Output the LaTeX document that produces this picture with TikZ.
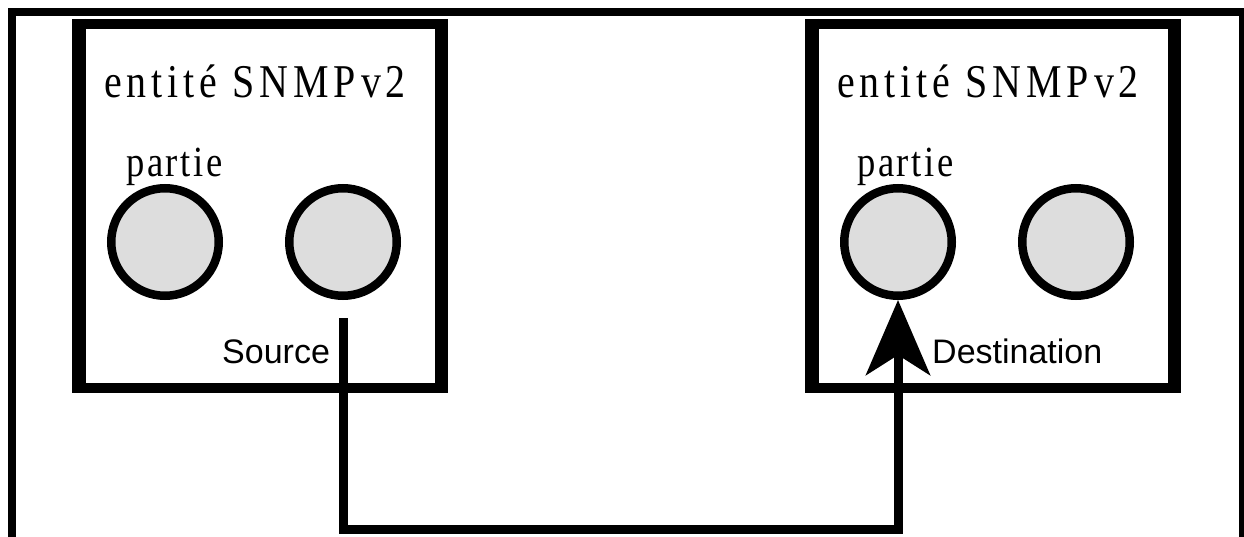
\documentclass[tikz,border=0pt]{standalone}
\usepackage{fontspec}
\setmainfont{Liberation Serif}
\newfontfamily\titlefont[FakeStretch=0.85,LetterSpace=10.5]{Liberation Serif}
\newfontfamily\partfont[FakeStretch=0.85,LetterSpace=6]{Liberation Serif}
\newfontfamily\labelfont{Liberation Sans}
\usetikzlibrary{arrows.meta}
\definecolor{partgray}{RGB}{221,221,221}
\begin{document}
\begin{tikzpicture}[x=1pt,y=-1pt,
  entitybox/.style={draw, rectangle, line width=10pt, outer sep=0pt,
    minimum width=362.5pt, minimum height=364pt, inner sep=0pt},
  boxside/.style={line width=14pt, shorten <=-5pt, shorten >=-5pt},
  part/.style={circle, draw, fill=partgray, line width=8.5pt,
    minimum size=107.5pt, inner sep=0pt},
  titletext/.style={inner sep=0pt, anchor=base west,
    font=\titlefont\fontsize{47pt}{47pt}\selectfont},
  parttext/.style={inner sep=0pt, anchor=base west,
    font=\partfont\fontsize{43pt}{43pt}\selectfont},
  roletext/.style={inner sep=0pt, anchor=base west,
    font=\labelfont\fontsize{34pt}{34pt}\selectfont},
  link/.style={line width=9pt},
  frame/.style={line width=8pt}
]
\useasboundingbox (0,0) rectangle (1244,537);
\clip (0,0) rectangle (1244,537);
% outer frame (no bottom edge)
\draw[frame] (12,560) -- (12,12) -- (1243,12) -- (1243,560);

% left entity
\node[entitybox] (lb) at (260.25,206) {};
\draw[boxside] (lb.north west) -- (lb.south west);
\draw[boxside, line width=13pt] (lb.north east) -- (lb.south east);
\node[titletext] (lt) at (104,98) {entité SNMPv2};
\node[parttext] (lp) at (126,177) {partie};
\node[part] (c1) at (165,242) {};
\node[part] (c2) at (343,242) {};
\node[roletext] (src) at (222,363) {Source};

% right entity
\node[entitybox] (rb) at (993.5,206) {};
\draw[boxside] (rb.north west) -- (rb.south west);
\draw[boxside, line width=13pt] (rb.north east) -- (rb.south east);
\node[titletext] (rt) at (837,98) {entité SNMPv2};
\node[parttext] (rp) at (857,177) {partie};
\node[part] (c3) at (898,242) {};
\node[part] (c4) at (1076,242) {};
\node[roletext] (dst) at (932,363) {Destination};

% connector
\coordinate (start) at (343.5,318);
\coordinate (bend) at (343.5,529.5);
\draw[link, -{Stealth[length=75pt,width=64pt,inset=20pt]}]
  (start) -- (bend) -| (c3.south);
\end{tikzpicture}
\end{document}
